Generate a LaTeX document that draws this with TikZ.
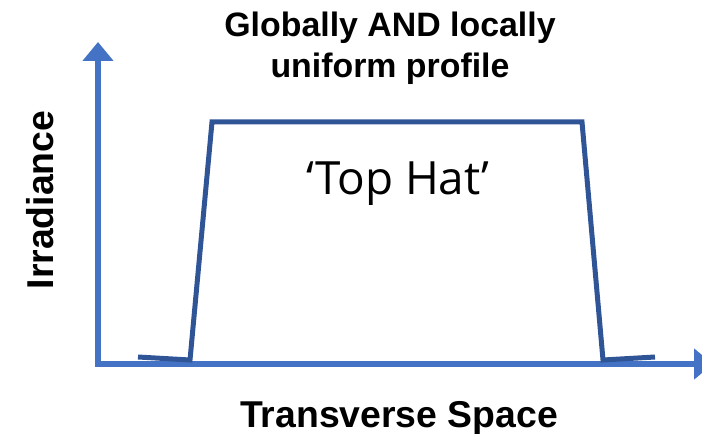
\documentclass[tikz,border=0pt]{standalone}
\usepackage{fontspec}
\setmainfont{Liberation Sans}
\newfontfamily\handfont{Open Sans}
\usetikzlibrary{arrows.meta}
\definecolor{axis-blue}{RGB}{68,114,196}
\definecolor{profile-blue}{RGB}{47,85,151}

\begin{document}
\begin{tikzpicture}[x=1bp, y=-1bp, >={Triangle[width=30bp,length=19bp]},
	   axis/.style={draw=axis-blue, line width=6.5bp},
	   prof/.style={draw=profile-blue, line width=5bp, line join=miter},
	   lbl/.style={font=\bfseries\fontsize{37.5}{44}\selectfont, inner sep=0pt}]
	  \useasboundingbox (0,0) rectangle (702,434);
	  % axes
	  \coordinate (O) at (95,364);
	  \coordinate (Oy) at (98,366);
	  \coordinate (ytip) at (98,42);
	  \coordinate (xtip) at (713,364);
	  \draw[axis, ->] (Oy) -- (ytip);
	  \draw[axis, ->] (O) -- (xtip);
	  % top hat profile
	  \coordinate (lf) at (138,357);
	  \coordinate (l0) at (190,360);
	  \coordinate (tl) at (212,122);
	  \coordinate (tr) at (582,122);
	  \coordinate (r0) at (603,360);
	  \coordinate (rf) at (655,357);
	  \draw[prof] (lf) -- (l0) -- (tl) -- (tr) -- (r0) -- (rf);
	  % labels
	  \node[lbl, font=\bfseries\fontsize{34}{41}\selectfont, align=center, anchor=north] (title) at (390,12) {Globally AND locally\\ uniform profile};
	  \node[lbl, rotate=90] (ylbl) at (40,200) {Irradiance};
	  \node[lbl, anchor=base] (xlbl) at (399,427) {Transverse Space};
	  \node[inner sep=0pt, anchor=base, font=\handfont\fontsize{46}{52}\selectfont] (hat) at (398,195) {‘Top Hat’};
	\end{tikzpicture}
\end{document}
